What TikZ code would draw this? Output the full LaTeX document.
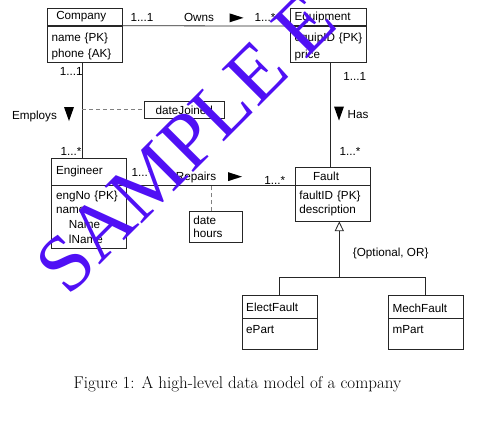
\documentclass[tikz,border=0pt]{standalone}
\usepackage{fontspec}
\newfontfamily\umlsans{Liberation Sans}
\newfontfamily\wmserif{Liberation Serif}
\usetikzlibrary{arrows.meta,positioning}
\definecolor{umlgray}{gray}{0.15}
\definecolor{wmblue}{RGB}{80,16,245}
\newcommand{\umlfont}{\umlsans\fontsize{11.7}{14}\selectfont}
\newcommand{\rtri}[1]{\fill (#1) ++(-7,-4.5) -- ++(14,4.5) -- ++(-14,4.5) -- cycle;}
\newcommand{\dtri}[1]{\fill (#1) ++(-5,-7) -- ++(10,0) -- ++(-5,14) -- cycle;}
\tikzset{
    umlhead/.style={draw=umlgray, line width=0.8pt, font=\umlfont, align=left,
        inner xsep=4.3pt, inner ysep=0pt, text width=66.6pt},
    umllabel/.style={font=\umlfont, inner sep=0pt},
    assoc/.style={draw=umlgray, line width=0.8pt},
    linkattr/.style={draw=gray, line width=1pt, dash pattern=on 4pt off 3pt},
    gentip/.style={-{Triangle[open, length=9.7pt, width=9.3pt]}}
}

\begin{document}
\begin{tikzpicture}[x=1pt, y=-1pt]
\useasboundingbox (0,0) rectangle (503,421);
% classes
\node[umlhead, minimum height=17pt] (comp) at (84.85,16.8) {\hspace*{4.7pt}Company};
\node[umlhead, below=0pt of comp, minimum height=36pt, text height=13.5pt,
    font=\umlsans\fontsize{11.7}{16.7}\selectfont] (compb) {name \{PK\}\\phone \{AK\}};
\node[umlhead, minimum height=17.4pt, inner xsep=3.5pt, text width=68.6pt] (equip) at (328.15,17) {\hspace*{0.8pt}Equipment};
\node[umlhead, below=0pt of equip, minimum height=35.6pt, inner xsep=3.5pt, text width=68.6pt,
    text height=13.5pt, font=\umlsans\fontsize{11.7}{16.7}\selectfont] (equipb) {\hspace*{0.8pt}equipID \{PK\}\\\hspace*{0.8pt}price};
\node[umlhead, minimum height=26.3pt, text width=66.4pt] (eng) at (89.2,171.85) {Engineer};
\node[umlhead, below=0pt of eng, minimum height=62.3pt, text width=66.4pt,
    font=\umlsans\fontsize{11.7}{14.7}\selectfont] (engb)
    {engNo \{PK\}\\name\\\hspace*{13pt}Name\\\hspace*{13pt}lName};
\node[umlhead, minimum height=17.3pt] (fault) at (332.65,176.35) {\hspace*{13.7pt}Fault};
\node[umlhead, below=0pt of fault, minimum height=35.3pt,
    font=\umlsans\fontsize{11.7}{13.4}\selectfont] (faultb) {faultID \{PK\}\\description};
\node[umlhead, minimum height=22.3pt] (elect) at (279.5,306.85) {ElectFault};
\node[umlhead, below=0pt of elect, text height=14.5pt, text depth=16.5pt] (electb) {ePart};
\node[umlhead, minimum height=22.3pt, text height=11.5pt, text depth=1pt] (mech) at (425.8,306.85) {MechFault};
\node[umlhead, below=0pt of mech, text height=14.5pt, text depth=16.5pt] (mechb) {mPart};
% link attributes
\node[umlhead, align=center, minimum height=17.7pt, text width=71.4pt] (joined) at (184.3,109.85) {dateJoined};
\node[umlhead, minimum height=30.6pt, text width=44.4pt,
    font=\umlsans\fontsize{11.7}{13.3}\selectfont] (datebox) at (215.5,227) {date\\hours};
% associations
\draw[assoc] (comp.south east) -- (equip.south west);
\draw[assoc] (compb.south) ++(-2.5,0) coordinate (emp) -- (emp |- eng.north);
\draw[assoc] (eng.south east) -- (fault.south west);
\draw[assoc] (equipb.south) ++(2.5,0) coordinate (has) -- (has |- fault.north);
\draw[linkattr] (emp |- joined.west) -- (joined.west);
\draw[linkattr] (datebox.north) ++(-4.5,0) coordinate (rep) -- (rep |- eng.south);
% generalization
\coordinate (genjoin) at (339.3,277.7);
\draw[assoc, gentip] (genjoin) -- (genjoin |- faultb.south);
\draw[assoc] (elect.north) |- (genjoin) -| (mech.north);
% labels
\node[umllabel] (ownsmin) at (142,17.7) {1...1};
\node[umllabel] (owns) at (199,17.7) {Owns};
\coordinate (ownsdir) at (236.5,17.85); \rtri{ownsdir}
\node[umllabel] (ownsmax) at (265,17.7) {1...*};
\node[umllabel] (empmin) at (71.3,71.7) {1...1};
\node[umllabel] (employs) at (34.5,116) {Employs};
\coordinate (empdir) at (69,114); \dtri{empdir}
\node[umllabel] (empmax) at (71,151) {1...*};
\node[umllabel] (repmin) at (142,172.7) {1...*};
\node[umllabel] (repairs) at (196,177.5) {Repairs};
\coordinate (repdir) at (235,176.65); \rtri{repdir}
\node[umllabel] (repmax) at (274.7,180.7) {1...*};
\node[umllabel] (hasmin) at (354.7,76.3) {1...1};
\coordinate (hasdir) at (339,113.5); \dtri{hasdir}
\node[umllabel] (haslabel) at (358,115) {Has};
\node[umllabel] (hasmax) at (350,151) {1...*};
\node[umllabel] (genlabel) at (390.7,253.3) {\{Optional, OR\}};
% caption
\node[inner sep=0pt, font=\fontsize{17}{20}\selectfont] (caption) at (237.5,384)
    {Figure 1: A high-level data model of a company};
% watermark
\node[inner sep=0pt, text=wmblue, rotate=45, font=\wmserif\fontsize{80}{80}\selectfont] (sample)
    at (186,143) {SAMPLE E};
\end{tikzpicture}
\end{document}
